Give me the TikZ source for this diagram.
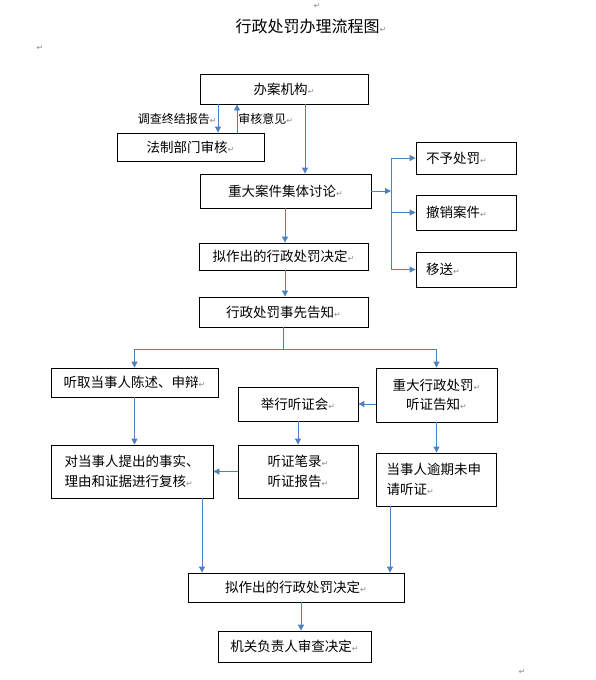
\documentclass[tikz,border=0pt]{standalone}
\usepackage{fontspec}
\setmainfont{Noto Sans CJK SC}
\newfontfamily\symfont{DejaVu Sans}
\usetikzlibrary{arrows.meta, positioning, calc}

\begin{document}
\begin{tikzpicture}[x=1pt, y=-1pt, font=\fontsize{13.5}{19.5}\selectfont,
    box/.style={draw, line width=0.8pt, inner sep=2pt},
    rbox/.style={box, text width=80pt, align=left, inner xsep=10pt},
    lbl/.style={font=\fontsize{12}{14}\selectfont, inner sep=1pt},
    arr/.style={-{Triangle[length=6pt, width=6pt]}, draw=lineblue, line width=0.8pt},
    wire/.style={draw=lineblue, line width=0.8pt}
]

% Colores
\definecolor{lineblue}{RGB}{79, 129, 189}

% Marca de párrafo
\newcommand{\retmark}{{\symfont\color{black!45}\fontsize{8}{8}\selectfont ↵}}

\useasboundingbox (0,0) rectangle (596,680);

% Título y marcas sueltas
\node[font=\fontsize{16}{18}\selectfont] (ttl) at (311,26) {行政处罚办理流程图\retmark};
\node (rm1) at (317,6) {\retmark};
\node (rm2) at (40,48) {\retmark};
\node (rm3) at (522,672) {\retmark};

% ============ Parte superior ============
\node[box, minimum width=168pt, minimum height=30pt] (bajg) at (284,89) {办案机构\retmark};
\node[box, minimum width=147pt, minimum height=28pt] (fzbm) at (190.5,147) {法制部门审核\retmark};
\node[box, minimum width=171pt, minimum height=34pt] (zdaj) at (285.5,191) {重大案件集体讨论\retmark};
\node[box, minimum width=169pt, minimum height=27pt] (nzc1) at (283.5,256.5) {拟作出的行政处罚决定\retmark};
\node[box, minimum width=169pt, minimum height=30pt] (sxgz) at (283.5,312) {行政处罚事先告知\retmark};

% Salidas a la derecha
\node[rbox, minimum height=32pt] (byf) at (466,158) {不予处罚\retmark};
\node[rbox, minimum height=35pt] (cxaj) at (466,212.5) {撤销案件\retmark};
\node[rbox, minimum height=35pt] (ys) at (466,269.5) {移送\retmark};

% ============ Parte inferior ============
\node[box, minimum width=167pt, minimum height=29pt] (tqdsr) at (134.5,382.5) {听取当事人陈述、申辩\retmark};
\node[box, minimum width=121pt, minimum height=54pt, align=center] (zdxz) at (436.5,395) {重大行政处罚\retmark\\听证告知\retmark};
\node[box, minimum width=120pt, minimum height=34pt] (jxtzh) at (298,404) {举行听证会\retmark};
\node[box, minimum width=162pt, minimum height=53pt, align=left] (fh) at (132,471.5) {对当事人提出的事实、\\理由和证据进行复核\retmark};
\node[box, minimum width=120pt, minimum height=53pt, align=center] (tzbl) at (298,471.5) {听证笔录\retmark\\听证报告\retmark};
\node[box, text width=100pt, inner xsep=10pt, align=left, minimum height=53pt] (yq) at (436.5,479.5) {当事人逾期未申\\请听证\retmark};
\node[box, minimum width=216pt, minimum height=29pt] (nzc2) at (296,587.5) {拟作出的行政处罚决定\retmark};
\node[box, minimum width=153pt, minimum height=31pt] (jgfzr) at (294.5,646.5) {机关负责人审查决定\retmark};

% Conectores superiores
\draw[arr] (218,0 |- bajg.south) -- node[left, lbl] {调查终结报告\retmark} (218,0 |- fzbm.north);
\draw[arr] (237,0 |- fzbm.north) -- node[right, lbl] {审核意见\retmark} (237,0 |- bajg.south);
\draw[arr] (305,0 |- bajg.south) -- (305,0 |- zdaj.north);
\draw[arr] (zdaj.east) -- (zdaj.east -| 391,0);
\draw[wire] (391,0 |- byf.west) -- (391,0 |- ys.west);
\foreach \n in {byf, cxaj, ys}
    \draw[arr] (391,0 |- \n.west) -- (\n.west);
\draw[arr] (285,0 |- zdaj.south) -- (285,0 |- nzc1.north);
\draw[arr] (285,0 |- nzc1.south) -- (285,0 |- sxgz.north);

% Bifurcación
\draw[wire] (sxgz.south) -- ++(0,22) coordinate (split);
\draw[wire] (split -| tqdsr.north) -- (split -| zdxz.north);
\draw[arr] (split -| tqdsr.north) -- (tqdsr.north);
\draw[arr] (split -| zdxz.north) -- (zdxz.north);

% Conectores inferiores
\draw[arr] (zdxz.west |- jxtzh.east) -- (jxtzh.east);
\draw[arr] (jxtzh.south) -- (tzbl.north);
\draw[arr] (zdxz.south) -- (yq.north);
\draw[arr] (tqdsr.south) -- (tqdsr.south |- fh.north);
\draw[arr] (tzbl.west) -- (tzbl.west -| fh.east);
\draw[arr] (202,0 |- fh.south) -- (202,0 |- nzc2.north);
\draw[arr] (390,0 |- yq.south) -- (390,0 |- nzc2.north);
\draw[arr] (301,0 |- nzc2.south) -- (301,0 |- jgfzr.north);

\end{tikzpicture}
\end{document}
